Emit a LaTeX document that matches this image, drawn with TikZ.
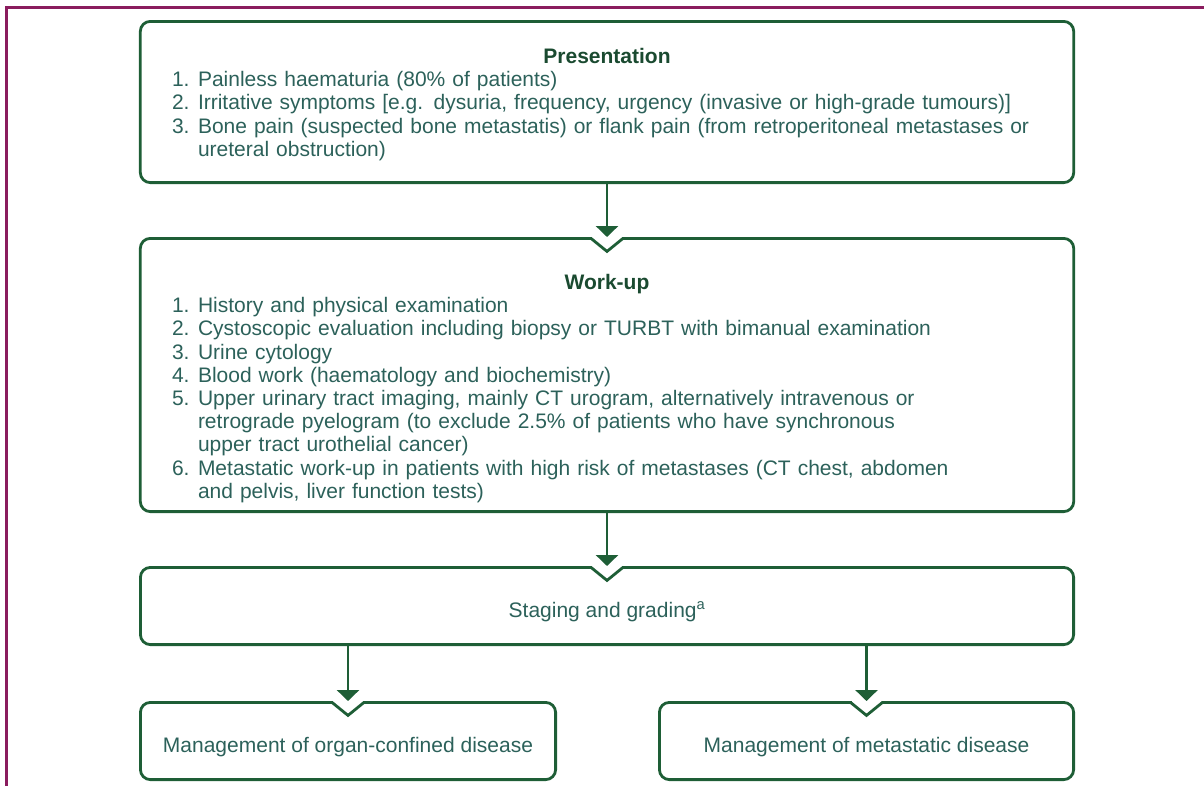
\documentclass[tikz,border=0pt]{standalone}
\usepackage{fontspec}
\setmainfont{Liberation Sans}
\usetikzlibrary{arrows.meta}
\definecolor{boxgreen}{HTML}{1E5E36}
\definecolor{textteal}{HTML}{2C615A}
\definecolor{titlegreen}{HTML}{1A4A30}
\definecolor{framepurple}{HTML}{8A1C5E}
\newcommand{\listitem}[2]{\par\noindent\hangindent=26pt\hangafter=1\makebox[26pt][l]{#1}#2}
\newcommand{\boxtitle}[1]{\noindent\makebox[\linewidth]{\color{titlegreen}\bfseries #1}}
\newcommand{\notch}[1]{%
  \fill[white] ([xshift=-15pt,yshift=-3.6pt]#1.north) rectangle ([xshift=15pt,yshift=0.5pt]#1.north);
  \draw[draw=boxgreen, line width=2.8pt, line join=miter]
    ([xshift=-20pt,yshift=-1.4pt]#1.north) -- ([xshift=-16pt,yshift=-1.4pt]#1.north)
    -- ([yshift=-14.4pt]#1.north) -- ([xshift=16pt,yshift=-1.4pt]#1.north)
    -- ([xshift=20pt,yshift=-1.4pt]#1.north);}
\tikzset{
  box/.style={draw=boxgreen, line width=2.8pt, rounded corners=10pt, text=textteal, inner sep=0pt, font=\fontsize{21}{23.2}\selectfont},
  onebox/.style={box, minimum height=77.2pt, text height=27pt, text depth=4pt},
  listbox/.style={box, inner xsep=31.7pt, text width=870pt},
  arr/.style={draw=boxgreen, line width=2.8pt, -{Triangle[width=22pt,length=11pt]}}
}
\begin{document}
\begin{tikzpicture}[x=1pt, y=-1pt]
  \useasboundingbox (0,0) rectangle (1204,785);
  % outer frame
  \draw[framepurple, line width=3pt] (6,786) -- (6,7) -- (1205,7);
  % boxes
  \node[listbox, minimum height=161.2pt] (present) at (607,102) {\raggedright
    \vspace*{-3pt}
    \boxtitle{Presentation}
    \listitem{1.}{Painless haematuria (80\% of patients)}
    \listitem{2.}{Irritative symptoms [e.g. dysuria, frequency, urgency (invasive or high-grade tumours)]}
    \listitem{3.}{Bone pain (suspected bone metastatis) or flank pain (from retroperitoneal metastases or\newline ureteral obstruction)}\par};
  \node[listbox, minimum height=273.2pt] (workup) at (607,375) {\raggedright
    \vspace*{19pt}
    \boxtitle{Work-up}
    \listitem{1.}{History and physical examination}
    \listitem{2.}{Cystoscopic evaluation including biopsy or TURBT with bimanual examination}
    \listitem{3.}{Urine cytology}
    \listitem{4.}{Blood work (haematology and biochemistry)}
    \listitem{5.}{Upper urinary tract imaging, mainly CT urogram, alternatively intravenous or\newline retrograde pyelogram (to exclude 2.5\% of patients who have synchronous\newline upper tract urothelial cancer)}
    \listitem{6.}{Metastatic work-up in patients with high risk of metastases (CT chest, abdomen\newline and pelvis, liver function tests)}\par};
  \node[onebox, minimum width=933.2pt] (staging) at (607,606) {Staging and grading\textsuperscript{a}};
  \node[onebox, minimum width=415.2pt] (organ) at (348,741) {Management of organ-confined disease};
  \node[onebox, minimum width=414.2pt] (meta) at (866.5,741) {Management of metastatic disease};
  % notches
  \notch{workup}
  \notch{staging}
  \notch{organ}
  \notch{meta}
  % arrows
  \draw[arr] (present.south) -- (workup.north);
  \draw[arr] (workup.south) -- (staging.north);
  \draw[arr] (staging.south -| organ.north) -- (organ.north);
  \draw[arr] (staging.south -| meta.north) -- (meta.north);
\end{tikzpicture}
\end{document}
